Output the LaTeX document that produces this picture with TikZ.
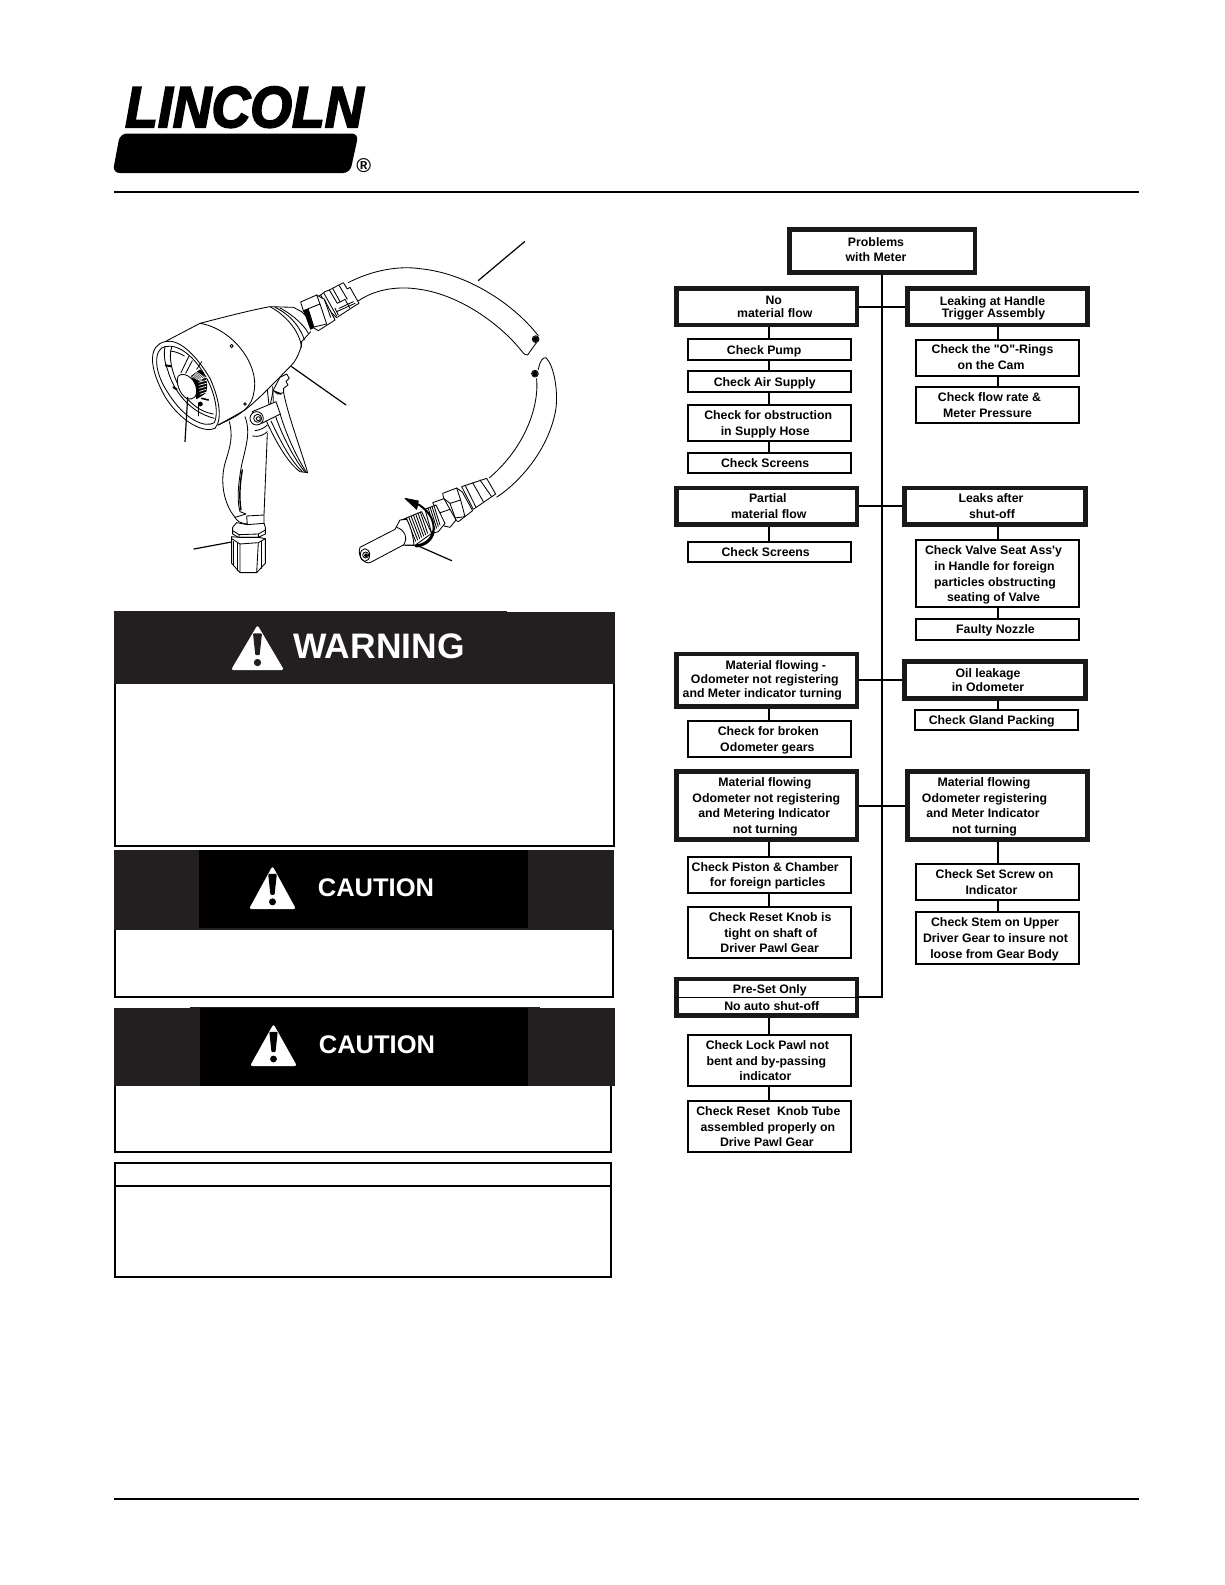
\documentclass[tikz,border=0pt]{standalone}
\usepackage{fontspec}
\setmainfont[Ligatures=TeXOff]{Liberation Sans}
\newfontfamily\logofont[BoldItalicFeatures={FakeBold=3.2}]{Liberation Sans}
\definecolor{hdrdark}{HTML}{231F20}
\def\LNy{1.2}
\newcommand\LN[2]{\hspace*{\dimexpr#1pt*2\relax}\strut\raisebox{-\LNy pt}[0pt][0pt]{#2}}
\tikzset{
 thinframe/.style={draw=black,line width=2pt,fill=white,inner sep=0pt,align=center,
   font=\fontsize{12.3}{15.7}\selectfont\bfseries},
 thickframe/.style={draw=black!90,line width=4.7pt,fill=white,inner sep=0pt,align=center,
   font=\fontsize{12.3}{15.7}\selectfont\bfseries},
 link/.style={draw=black,line width=2pt},
 art/.style={draw=black,line width=0.85pt,line cap=round,line join=round},
 leader/.style={draw=black,line width=1.2pt},
 panel/.style={draw=black,line width=2pt},
 hdrtext/.style={text=white,font=\bfseries,inner sep=0pt},
 trace/.style={x=0.3333pt,y=-0.3333pt,every path/.style={art}},
}
\newcommand\framed[7]{% width name x1 y1 x2 y2 text  (outer edges)
 \pgfmathsetmacro\mycx{(#3+#5)/2}\pgfmathsetmacro\mycy{(#4+#6)/2}%
 \pgfmathsetmacro\myw{#5-#3-(#1)}\pgfmathsetmacro\myh{#6-#4-(#1)}%
 \ifdim #1pt>3pt
 \node[thickframe,minimum width=\myw pt,minimum height=\myh pt] (#2) at (\mycx,\mycy) {#7};%
 \else
 \node[thinframe,minimum width=\myw pt,minimum height=\myh pt] (#2) at (\mycx,\mycy) {#7};%
 \fi}
\newcommand\warntri[5]{% x1 y1 x2 y2 markcolor
 \pgfmathsetmacro\tc{(#1+#3)/2}\pgfmathsetmacro\th{#4-#2}%
 \fill[white,rounded corners=2.5pt] (\tc,#2-1) -- (#3+2,#4+1) -- (#1-2,#4+1) -- cycle;
 \fill[#5,rounded corners=1pt] ({\tc-0.105*\th},#2+0.17*\th) -- ({\tc+0.105*\th},#2+0.17*\th)
   -- ({\tc+0.05*\th},#2+0.68*\th) -- ({\tc-0.05*\th},#2+0.68*\th) -- cycle;
 \fill[#5] (\tc,#2+0.85*\th) circle[radius=0.085*\th];}
\begin{document}
\begin{tikzpicture}[x=1pt,y=-1pt]
\useasboundingbox (0,0) rectangle (1225,1585);
\fill[white] (0,0) rectangle (1225,1585);

% ---------- rules
\draw[line width=2pt] (114,192) -- (1139,192);
\draw[line width=2pt] (114,1499) -- (1139,1499);

% ---------- logo
\begin{scope}[shift={(100,70)},x=0.3333pt,y=-0.3378pt]
 \node[inner sep=0pt,xscale=0.925] (logo) at (433,110) {\fontsize{58}{58}\logofont\bfseries\itshape LINCOLN};
 \fill[rounded corners=7pt] (60,188) -- (776,188) -- (750,305) -- (38,305) -- cycle;
 \node[inner sep=0pt] (reg) at (791,282) {\fontsize{20}{20}\selectfont\bfseries ®};
\end{scope}

% ---------- hoses (coordinates of the overview crop)
\begin{scope}[shift={(100,70)},x=0.3333pt,y=-0.3385pt,every path/.style={art}]
 \draw (745,628) .. controls (820,590) and (900,578) .. (960,587) .. controls (1100,600) and (1240,690) .. (1315,785);
 \draw (775,682) .. controls (830,645) and (900,638) .. (960,648) .. controls (1080,665) and (1200,750) .. (1265,830) .. controls (1272,840) and (1278,843) .. (1283,842) .. controls (1295,825) and (1302,815) .. (1310,805);
 \fill[black] (1307,795) circle[radius=7];
 \draw (1307,795) circle[radius=10];
 \fill[black] (1305,897) circle[radius=7];
 \draw (1305,897) circle[radius=10];
 \draw (1315,885) .. controls (1320,860) and (1328,848) .. (1338,850) .. controls (1360,870) and (1375,940) .. (1368,1000) .. controls (1350,1110) and (1270,1210) .. (1190,1262);
 \draw (1310,912) .. controls (1318,1000) and (1270,1120) .. (1168,1205);
 \draw[leader] (1274,507) -- (1135,622);
\end{scope}

% ---------- upper fitting
\begin{scope}[shift={(290,240)},trace]
 \draw[fill=white] (85,170) -- (105,155) -- (118,150) -- (160,128) -- (172,147) -- (180,142) -- (207,190) -- (195,197) -- (140,233) -- (128,222) -- cycle;
 \draw (92,165) -- (132,235);
 \draw (102,160) -- (140,228);
 \draw (118,150) -- (142,190) (142,190) -- (165,178) (165,178) -- (180,205);
 \draw (128,145) -- (150,185) (148,137) -- (172,178);
 \draw (135,205) -- (145,225) (140,215) -- (195,190) (147,205) -- (190,185);
 \draw[fill=white] (32,186) -- (80,165) -- (103,178) -- (135,240) -- (85,272) -- (68,262) -- (40,212) -- cycle;
 \draw (80,165) -- (90,192) -- (40,212) (90,192) -- (110,252) -- (68,262) (103,178) -- (122,232);
 \fill[black] (42,213) -- (55,208) -- (72,262) -- (62,268) -- cycle;
\end{scope}

% ---------- meter body and dial
\begin{scope}[shift={(145,290)},trace]
 \draw (60,155) -- (165,100) .. controls (250,78) and (320,60) .. (375,50) -- (445,52) -- (470,65);
 \draw (470,155) .. controls (470,175) and (455,210) .. (440,225) .. controls (400,265) and (350,320) .. (300,360) -- (220,405);
 \draw (165,100) .. controls (260,115) and (350,225) .. (325,315) .. controls (315,365) and (260,385) .. (220,405);
 \draw (375,50) .. controls (430,80) and (465,130) .. (470,172);
 \draw (390,52) .. controls (440,75) and (470,120) .. (478,150);
 \draw (405,54) .. controls (450,78) and (480,110) .. (490,130);
 \draw (470,65) -- (497,92) (497,125) -- (470,155);
 \draw (260,168) circle[radius=5];
 \draw (300,342) circle[radius=4];
 % bezel
 \draw (60,155) .. controls (15,165) and (5,220) .. (60,320) .. controls (110,400) and (180,430) .. (210,415) .. controls (235,385) and (220,320) .. (195,265) .. controls (150,190) and (100,145) .. (60,155);
 \draw (60,170) .. controls (28,175) and (22,240) .. (70,310) .. controls (120,390) and (180,415) .. (208,398) .. controls (222,370) and (210,310) .. (185,265) .. controls (150,200) and (100,160) .. (60,170);
 % dial
 \draw (60,170) .. controls (55,195) and (60,220) .. (68,240) .. controls (85,300) and (130,365) .. (208,385);
 \draw (80,172) .. controls (68,205) and (85,270) .. (120,320) .. controls (145,345) and (165,365) .. (205,372);
 \draw[line width=2pt] (62,226) -- (78,229) (85,292) -- (95,298);
 \draw (75,183) .. controls (90,184) and (105,190) .. (118,198);
 \draw (132,198) -- (108,248) (142,212) -- (122,250) (170,215) -- (155,238);
 \draw (160,345) -- (160,378);
 \fill[black] (166,342) circle[radius=6];
 \draw[line width=1.6pt] (170,325) -- (190,330);
 % knurled stem and knob
 \draw[fill=black] (140,258) -- (165,240) .. controls (185,255) and (190,295) .. (180,310) -- (155,326) -- cycle;
 \foreach \k in {0,...,6} \draw[white,line width=0.7pt] (142+4*\k,262+2*\k) -- (157+3.5*\k,247+2*\k);
 \foreach \k in {0,...,5} \draw[white,line width=0.7pt] (160+\k,268+9*\k) -- (185-0.5*\k,262+9*\k);
 \draw[fill=white] (100,258) .. controls (115,245) and (145,260) .. (153,290) .. controls (160,320) and (145,332) .. (125,325) .. controls (105,315) and (90,275) .. (100,258);
 \draw[leader] (128,322) -- (120,455);
 \draw[leader] (440,230) -- (603,345);
 % trigger
 \draw[fill=white] (385,300) -- (405,262) -- (425,252) -- (433,265) -- (423,274) -- (429,285) -- (416,295) -- (416,308) .. controls (430,380) and (465,470) .. (488,548) -- (465,545) .. controls (430,520) and (395,460) .. (365,395) -- cycle;
 \draw (378,393) .. controls (405,450) and (435,510) .. (472,545);
 \draw (392,380) .. controls (415,445) and (450,510) .. (480,546);
 \draw (405,370) .. controls (425,440) and (460,510) .. (485,548);
 \draw (385,300) -- (398,312) -- (416,308);
 \draw[line width=1.6pt] (390,305) -- (408,312);
 \draw (367,300) -- (372,345) (383,290) -- (385,335);
 \draw[fill=white] (322,365) -- (393,335) -- (406,372) -- (350,400) -- cycle;
 \draw[fill=white] (335,385) circle[radius=20];
 \draw (338,385) circle[radius=12];
 \draw (340,386) circle[radius=6];
\end{scope}

% ---------- grip and lower fitting
\begin{scope}[shift={(190,400)},trace]
 \draw (118,65) .. controls (130,110) and (120,140) .. (108,180) .. controls (88,240) and (100,310) .. (135,352);
 \draw (165,50) .. controls (182,95) and (170,130) .. (155,195) .. controls (145,250) and (140,300) .. (150,335) -- (168,342) -- (135,352);
 \draw[line width=1.4pt] (157,210) .. controls (148,260) and (148,300) .. (153,330);
 \draw (232,100) -- (222,345);
 \draw (188,108) .. controls (205,112) and (222,105) .. (232,95);
 \draw (195,92) .. controls (210,90) and (222,85) .. (232,75);
 \draw (170,348) -- (222,345) (170,348) -- (172,375) (222,345) -- (222,372);
 \draw (135,352) .. controls (140,362) and (150,370) .. (172,372);
 \draw[fill=white] (128,382) -- (140,368) -- (172,374) -- (222,370) -- (226,382) -- (226,402) -- (205,412) -- (145,412) -- (128,402) -- cycle;
 \draw (128,392) -- (147,404) -- (205,402) -- (226,390) (147,404) -- (147,412) (205,402) -- (205,412);
 \draw[fill=white] (125,410) -- (145,412) -- (205,412) -- (226,416) -- (226,490) -- (200,518) -- (150,518) -- (125,490) -- cycle;
 \draw (125,416) -- (150,432) -- (205,428) -- (226,416);
 \draw (150,432) -- (150,518) (205,428) -- (200,518);
 \draw (131,425) -- (131,495) (142,430) -- (142,512) (213,425) -- (213,505);
 \draw[leader] (12,447) -- (125,426);
\end{scope}

% ---------- nozzle and fittings
\begin{scope}[shift={(350,470)},trace]
 \draw[fill=white] (335,50) -- (410,25) -- (437,72) -- (370,118) -- cycle;
 \draw (345,45) -- (378,112) (368,38) -- (400,95) (390,30) -- (425,80);
 \draw[fill=white] (278,70) -- (320,54) -- (337,66) -- (368,122) -- (325,155) -- (305,145) -- (285,105) -- cycle;
 \draw (320,54) -- (332,90) -- (285,105) (332,90) -- (345,140) -- (305,145);
 \draw[fill=white] (248,98) -- (282,86) -- (300,100) -- (318,150) -- (300,172) -- (282,168) -- (265,130) -- cycle;
 \draw (265,130) -- (300,118) -- (318,150) (282,86) -- (300,118);
 \draw[fill=white] (225,118) -- (258,105) -- (285,160) -- (265,185) -- (245,190) -- cycle;
 \foreach \k in {1,...,4} \draw (228+6*\k,115-2*\k) -- (250+5*\k,185-5*\k);
 \draw[fill=white] (150,152) -- (215,125) -- (245,190) -- (195,226) -- (165,226) -- cycle;
 \foreach \k in {1,...,8} \draw (155+7*\k,150-3*\k) -- (185+6*\k,222-4*\k);
 \draw[fill=white] (30,232) -- (135,178) -- (150,150) -- (170,148) .. controls (185,175) and (190,205) .. (192,225) -- (160,225) -- (62,277) .. controls (45,285) and (20,260) .. (30,232);
 \draw (140,172) .. controls (165,180) and (175,205) .. (160,226);
 \draw (45,255) circle[x radius=14,y radius=19];
 \draw (47,255) circle[radius=9];
 \fill (48,256) circle[radius=5];
 % rotation arrow
 \draw[line width=2pt] (205,103) .. controls (240,125) and (255,155) .. (250,185);
 \draw[line width=3pt] (250,185) .. controls (245,210) and (225,225) .. (198,228);
 \fill (165,85) -- (205,93) -- (200,118) -- cycle;
 \draw[leader] (205,228) -- (305,272);
\end{scope}

% ---------- warning panels
\draw[panel,fill=white] (115,613) rectangle (614,845.5);
\fill[hdrdark] (114,612) rectangle (615,683.6);
\fill[hdrdark] (114,611) rectangle (507,613);
\warntri{233}{626}{282}{669}{hdrdark}
\node[hdrtext,font=\fontsize{35.4}{35.4}\selectfont\bfseries] (warnlabel) at (379,646) {WARNING};

\draw[panel,fill=white] (115,851) rectangle (612.5,996.5);
\fill[hdrdark] (114,850) rectangle (613.5,930);
\fill[black] (199,850) rectangle (528.4,928);
\warntri{251}{867}{294}{908}{black}
\node[hdrtext,font=\fontsize{25.5}{25.5}\selectfont\bfseries] (cautiona) at (376,888) {CAUTION};

\draw[panel,fill=white] (115,1009) rectangle (610.5,1152.3);
\fill[hdrdark] (114,1008) rectangle (615,1086);
\fill[hdrdark] (190,1007) rectangle (540,1009);
\fill[black] (200,1008) rectangle (528.4,1085.5);
\warntri{252}{1025}{295}{1065}{black}
\node[hdrtext,font=\fontsize{25.5}{25.5}\selectfont\bfseries] (cautionb) at (377,1044.5) {CAUTION};

\draw[panel] (115,1163) rectangle (610.5,1277);
\draw[panel] (115,1186) -- (610.5,1186);

% ---------- flow chart boxes
\def\LNy{-0.3}
\framed{4.7}{prob}{787.3}{227.3}{977.3}{275}{\LN{-6.3}{Problems}\\\LN{-6.3}{with Meter}}
\def\LNy{1.2}
\framed{4.7}{nomat}{674.3}{286}{859.3}{327.3}{\LN{7}{No}\\[-3pt]\LN{8}{material flow}}
\def\LNy{2}
\framed{4.7}{leakh}{905}{286}{1090}{327.3}{\LN{-5}{Leaking at Handle}\\[-3.7pt]\LN{-4}{Trigger Assembly}}
\framed{2}{pump}{686.7}{338}{851.7}{360.7}{\LN{-5}{Check Pump}}
\framed{2}{air}{686.7}{370}{851.7}{392.7}{\LN{-4.5}{Check Air Supply}}
\def\LNy{1.2}
\framed{2}{obstr}{686.7}{404.3}{851.7}{442.3}{\LN{-1}{Check for obstruction}\\\LN{-4}{in Supply Hose}}
\framed{2}{scra}{686.7}{451.7}{851.7}{474}{\LN{-4}{Check Screens}}
\def\LNy{0.2}
\framed{2}{orings}{915}{338.7}{1080}{377}{\LN{-5}{Check the "O"-Rings}\\\LN{-6.5}{on the Cam}}
\def\LNy{1.2}
\framed{2}{flowr}{915}{386}{1080}{424}{\LN{-8}{Check flow rate \&}\\\LN{-10}{Meter Pressure}}

\framed{4.7}{partial}{674.3}{485.7}{859.3}{527}{\LN{1}{Partial}\\\LN{2}{material flow}}
\framed{4.7}{leaks}{902.3}{485.7}{1087.7}{527}{\LN{-4}{Leaks after}\\\LN{-3}{shut-off}}
\framed{2}{scrb}{686.7}{541}{851.7}{563}{\LN{-3.5}{Check Screens}}
\def\LNy{1.5}
\framed{2}{valve}{915}{539}{1080}{608.3}{\LN{-4}{Check Valve Seat Ass'y}\\\LN{-3}{in Handle for foreign}\\\LN{-2.5}{particles obstructing}\\\LN{-4}{seating of Valve}}
\def\LNy{1.2}
\framed{2}{faulty}{915}{618}{1080}{640.7}{\LN{-2}{Faulty Nozzle}}

\def\LNy{0}
\framed{4.7}{matodo}{674.3}{651.7}{859.3}{709}{\LN{9}{Material flowing -}\\[-2pt]\LN{-2}{Odometer not registering}\\[-2pt]\LN{-4.5}{and Meter indicator turning}}
\def\LNy{1.2}
\framed{4.7}{oil}{902.3}{659.3}{1087.7}{701}{\LN{-7}{Oil leakage}\\[-1.7pt]\LN{-7}{in Odometer}}
\framed{2}{gland}{914}{708.7}{1079.3}{730.7}{\LN{-5}{Check Gland Packing}}
\framed{2}{broken}{687}{719.7}{851.7}{758.3}{\LN{-1}{Check for broken}\\\LN{-2}{Odometer gears}}

\framed{4.7}{matl}{674.3}{769}{859.3}{842}{\LN{-2}{Material flowing}\\\LN{-0.5}{Odometer not registering}\\\LN{-2.5}{and Metering Indicator}\\\LN{-1.5}{not turning}}
\framed{4.7}{matr}{905}{769}{1090}{842}{\LN{-13.5}{Material flowing}\\\LN{-13}{Odometer registering}\\\LN{-14.5}{and Meter Indicator}\\\LN{-13}{not turning}}
\framed{2}{piston}{686.7}{855.7}{851.7}{894}{\LN{-4}{Check Piston \& Chamber}\\[-0.7pt]\LN{-1.5}{for foreign particles}}
\framed{2}{reset}{686.7}{906}{851.7}{959.3}{\LN{1}{Check Reset Knob is}\\\LN{1.5}{tight on shaft of}\\\LN{0.5}{Driver Pawl Gear}}
\framed{2}{setscr}{915}{863}{1080}{901.3}{\LN{-3}{Check Set Screw on}\\\LN{-6}{Indicator}}
\framed{2}{stem}{915}{911.3}{1080}{965}{\LN{-2.5}{Check Stem on Upper}\\\LN{-2}{Driver Gear to insure not}\\\LN{-3}{loose from Gear Body}}

\framed{4.7}{preset}{674.3}{976.7}{859.3}{1018}{\LN{3}{Pre-Set Only}\\[1pt]\LN{5}{No auto shut-off}}
\framed{2}{lock}{687}{1034.3}{851.7}{1087.3}{\LN{-2}{Check Lock Pawl not}\\\LN{-3}{bent and by-passing}\\\LN{-4}{indicator}}
\framed{2}{tube}{687}{1100.3}{851.7}{1153.3}{\LN{-1}{Check Reset\ \ Knob Tube}\\\LN{-1.5}{assembled properly on}\\\LN{-2.5}{Drive Pawl Gear}}

\draw[line width=1pt] (preset.west) -- (preset.east);

% ---------- connectors
\coordinate (trunk) at (881.7,997);
\draw[link] (prob.south -| trunk) |- (preset.east);
\draw[link] (nomat.east) -- (leakh.west);
\draw[link] (partial.east) -- (leaks.west);
\draw[link] (matodo.east |- oil.west) -- (oil.west);
\draw[link] (matl.east) -- (matr.west);
\foreach \a/\b in {nomat/pump,pump/air,air/obstr,obstr/scra,partial/scrb,matodo/broken,matl/piston,piston/reset,preset/lock,lock/tube,
   leakh/orings,orings/flowr,leaks/valve,valve/faulty,matr/setscr,setscr/stem}
  \draw[link] (\b.north |- \a.south) -- (\b.north);
\draw[link] (gland.north -| valve.north) -- (oil.south -| valve.north);
\end{tikzpicture}
\end{document}
